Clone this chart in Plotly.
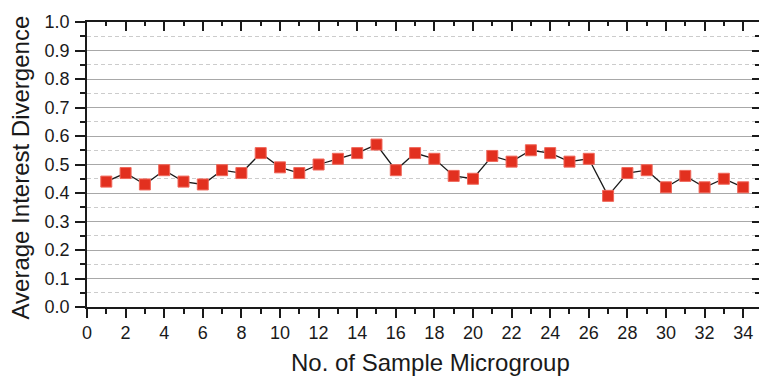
import plotly.graph_objects as go

# Average interest divergence per sample microgroup
groups = list(range(1, 35))
divergence = [0.44, 0.47, 0.43, 0.48, 0.44, 0.43, 0.48, 0.47, 0.54, 0.49,
              0.47, 0.50, 0.52, 0.54, 0.57, 0.48, 0.54, 0.52, 0.46, 0.45,
              0.53, 0.51, 0.55, 0.54, 0.51, 0.52, 0.39, 0.47, 0.48, 0.42,
              0.46, 0.42, 0.45, 0.42]

x_title = "No. of Sample Microgroup"
y_title = "Average Interest Divergence"

x_range = [0, 34.82]
y_range = [0, 1.0]

FONT = "Arial, Liberation Sans, sans-serif"
INK = "#1a1a1a"

W, H = 759, 380
L, R, T, B = 87, 0, 22, 73
PW, PH = W - L - R, H - T - B

fig = go.Figure()

fig.add_trace(go.Scatter(
    x=groups, y=divergence, mode="lines+markers",
    line=dict(color=INK, width=1.3),
    marker=dict(symbol="square", size=11, color="#E2301F",
                line=dict(color="#F0675A", width=1)),
    showlegend=False, hoverinfo="x+y",
))

# empty trace so the mirrored top/right axes are drawn
fig.add_trace(go.Scatter(x=[], y=[], xaxis="x2", yaxis="y2",
                         showlegend=False, hoverinfo="skip"))

tick_font = dict(size=18, family=FONT, color=INK)
title_font = dict(size=24, family=FONT, color=INK)

fig.update_layout(
    width=W, height=H,
    margin=dict(l=L, r=R, t=T, b=B),
    paper_bgcolor="white", plot_bgcolor="white",
    font=dict(family=FONT, color=INK),
    xaxis=dict(
        range=x_range, tickmode="linear", tick0=0, dtick=2,
        ticks="outside", ticklen=9, tickwidth=1.5, tickcolor=INK,
        showline=True, linecolor=INK, linewidth=1.5,
        showgrid=False, zeroline=False, tickfont=tick_font,
        minor=dict(dtick=1, tick0=0, ticks="outside", ticklen=5,
                   tickwidth=1.5, tickcolor=INK, showgrid=False),
    ),
    yaxis=dict(
        range=y_range, tickmode="linear", tick0=0, dtick=0.1,
        tickformat=".1f", ticklabelstandoff=2,
        ticks="outside", ticklen=10, tickwidth=1.5, tickcolor=INK,
        showline=True, linecolor=INK, linewidth=1.5,
        showgrid=True, gridcolor="#a8a8a8", gridwidth=1.3,
        zeroline=False, tickfont=tick_font,
        minor=dict(dtick=0.05, tick0=0, ticks="outside", ticklen=5,
                   tickwidth=1.5, tickcolor=INK, showgrid=True,
                   gridcolor="#cccccc", gridwidth=1, griddash="4px,3px"),
    ),
    xaxis2=dict(
        overlaying="x", side="top", anchor="y", range=x_range,
        tickmode="linear", tick0=0, dtick=2,
        ticks="inside", ticklen=9, tickwidth=1.5, tickcolor=INK,
        showline=True, linecolor=INK, linewidth=1.5,
        showticklabels=False, showgrid=False, zeroline=False,
        minor=dict(dtick=1, tick0=0, ticks="inside", ticklen=4,
                   tickwidth=1.5, tickcolor=INK, showgrid=False),
    ),
    yaxis2=dict(
        overlaying="y", side="right", anchor="x", range=y_range,
        tickmode="linear", tick0=0, dtick=0.1,
        ticks="inside", ticklen=7, tickwidth=1.5, tickcolor=INK,
        showline=False, showticklabels=False, showgrid=False,
        zeroline=False,
        minor=dict(dtick=0.05, tick0=0, ticks="inside", ticklen=4,
                   tickwidth=1.5, tickcolor=INK, showgrid=False),
    ),
    annotations=[
        dict(text=x_title, xref="paper", yref="paper",
             x=(430 - L) / PW, y=-(362 - T - PH) / PH,
             xanchor="center", yanchor="middle", showarrow=False,
             font=title_font),
        dict(text=y_title, xref="paper", yref="paper", textangle=-90,
             x=(20 - L) / PW, y=(T + PH - 167.5) / PH,
             xanchor="center", yanchor="middle", showarrow=False,
             font=title_font),
    ],
)

fig.write_html("out.html")
